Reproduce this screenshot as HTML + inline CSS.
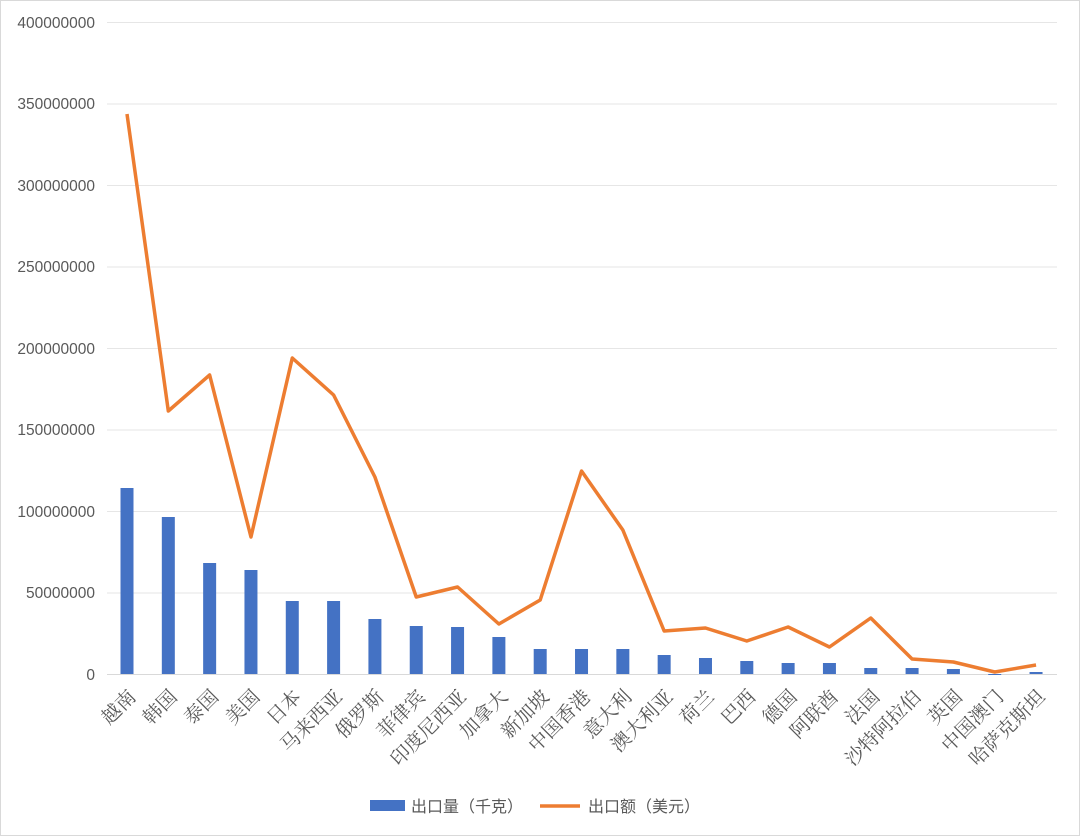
<!DOCTYPE html>
<html><head><meta charset="utf-8"><style>
body{margin:0;background:#fff;}
svg{display:block;}
.y{font:15.5px "Liberation Sans","DejaVu Sans",sans-serif;fill:#595959;}
.x{font:19.5px "Liberation Serif","Noto Serif CJK SC",serif;fill:#595959;}
.l{font:16px "Liberation Sans","Noto Sans CJK SC",sans-serif;fill:#595959;}
</style></head><body>
<svg width="1080" height="836" xmlns="http://www.w3.org/2000/svg">
<rect x="0.5" y="0.5" width="1079" height="835" fill="#fff" stroke="#d9d9d9"/>
<g stroke="#e6e6e6" stroke-width="1">
<line x1="107" x2="1057" y1="22.5" y2="22.5"/><line x1="107" x2="1057" y1="104" y2="104"/>
<line x1="107" x2="1057" y1="185.5" y2="185.5"/><line x1="107" x2="1057" y1="267" y2="267"/>
<line x1="107" x2="1057" y1="348.5" y2="348.5"/><line x1="107" x2="1057" y1="430" y2="430"/>
<line x1="107" x2="1057" y1="511.5" y2="511.5"/><line x1="107" x2="1057" y1="593" y2="593"/>
</g>
<line x1="107" x2="1057" y1="674.5" y2="674.5" stroke="#d9d9d9"/>
<g class="y" text-anchor="end">
<text x="95" y="28">400000000</text><text x="95" y="109">350000000</text>
<text x="95" y="191">300000000</text><text x="95" y="272">250000000</text>
<text x="95" y="354">200000000</text><text x="95" y="435">150000000</text>
<text x="95" y="517">100000000</text><text x="95" y="598">50000000</text>
<text x="95" y="680">0</text>
</g>
<g id="bars" fill="#4472c4"></g>
<polyline id="ln" fill="none" stroke="#ed7d31" stroke-width="3.5" stroke-linejoin="round"/>
<g id="labs" class="x" text-anchor="end"></g>
<rect x="370" y="800" width="35" height="11" fill="#4472c4"/>
<text class="l" x="411" y="812">出口量（千克）</text>
<line x1="540" x2="580" y1="806" y2="806" stroke="#ed7d31" stroke-width="3.5"/>
<text class="l" x="588" y="812">出口额（美元）</text>
</svg>
<script>
var names=["越南","韩国","泰国","美国","日本","马来西亚","俄罗斯","菲律宾","印度尼西亚","加拿大","新加坡","中国香港","意大利","澳大利亚","荷兰","巴西","德国","阿联酋","法国","沙特阿拉伯","英国","中国澳门","哈萨克斯坦"];
var bars=[488,517,563,570,601,601,619,626,627,637,649,649,649,655,658,661,663,663,668,668,669,674,672];
var line=[114,411,375,537,358,395,477,597,587,624,600,471,530,631,628,641,627,647,618,659,662,672,665];
var ns="http://www.w3.org/2000/svg",b=document.getElementById("bars"),L=document.getElementById("labs"),pts=[];
names.forEach(function(n,i){var cx=127+i*41.32;
var r=document.createElementNS(ns,"rect");r.setAttribute("x",cx-6.5);r.setAttribute("width",13);r.setAttribute("y",bars[i]);r.setAttribute("height",Math.max(674-bars[i],1));b.appendChild(r);
pts.push(cx+","+line[i]);
var t=document.createElementNS(ns,"text");t.setAttribute("transform","translate("+(cx+10)+",698) rotate(-45)");t.textContent=n;L.appendChild(t);});
document.getElementById("ln").setAttribute("points",pts.join(" "));
</script>
</body></html>
